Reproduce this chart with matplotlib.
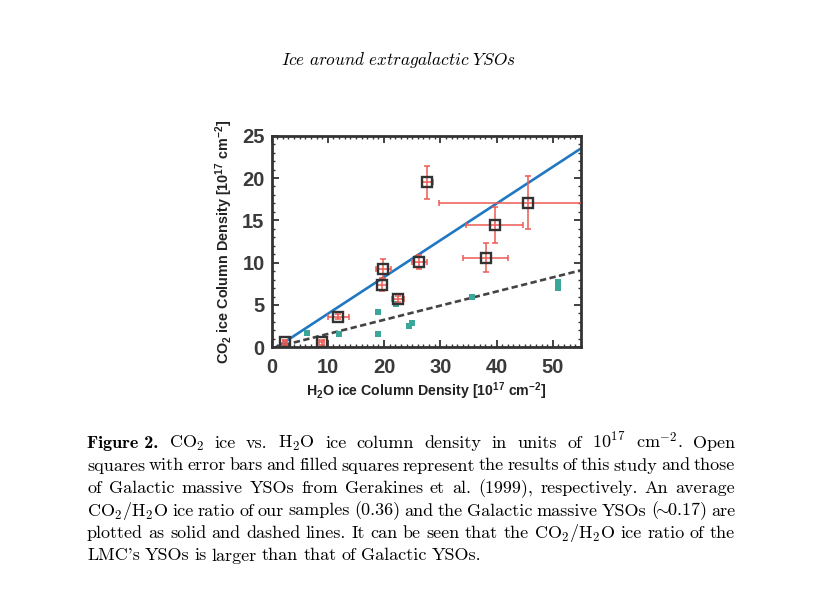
import matplotlib
matplotlib.use('Agg')
from matplotlib import pyplot as plt

# this study (open squares with error bars)
h2o = [2.4, 8.9, 11.9, 19.6, 19.9, 22.5, 26.3, 27.7, 38.1, 39.7, 45.6]
co2 = [0.6, 0.6, 3.6, 7.4, 9.25, 5.7, 10.1, 19.5, 10.6, 14.45, 17.1]
h2o_err_lo = [0.4, 0.4, 1.8, 0.9, 1.4, 1.0, 1.4, 1.0, 4.0, 5.05, 15.85]
h2o_err_hi = [0.4, 0.4, 1.8, 0.9, 1.4, 1.0, 1.4, 1.0, 4.0, 5.05, 16.0]
co2_err = [0.3, 0.3, 0.3, 0.8, 1.2, 0.4, 0.8, 1.95, 1.7, 2.1, 3.1]

# Galactic massive YSOs, Gerakines et al. (1999) (filled squares)
gal_h2o = [6.25, 12.0, 19.0, 19.0, 22.05, 24.4, 25.0, 35.6, 50.95, 50.95]
gal_co2 = [1.65, 1.53, 4.13, 1.53, 5.1, 2.55, 2.9, 6.0, 7.75, 7.05]

# average ratio lines (end points)
lmc_line_x = [0.9, 55]
lmc_line_y = [0, 23.5]
gal_line_x = [0.6, 55]
gal_line_y = [0, 9.1]

header = r'$\mathit{Ice\ around\ extragalactic\ YSOs}$'
caption = [
    r'Figure 2. CO$_2$ ice vs. H$_2$O ice column density in units of 10$^{17}$ cm$^{-2}$. Open',
    r'squares with error bars and filled squares represent the results of this study and those',
    r'of Galactic massive YSOs from Gerakines et al. (1999), respectively. An average',
    r'CO$_2$/H$_2$O ice ratio of our samples (0.36) and the Galactic massive YSOs ($\!\!\sim\!\!$0.17) are',
    r'plotted as solid and dashed lines. It can be seen that the CO$_2$/H$_2$O ice ratio of the',
    r"LMC's YSOs is larger than that of Galactic YSOs.",
]

plt.rcParams['font.family'] = ['Liberation Sans', 'DejaVu Sans']
plt.rcParams['mathtext.fontset'] = 'custom'
plt.rcParams['mathtext.rm'] = 'Liberation Sans:bold'
plt.rcParams['mathtext.it'] = 'Liberation Sans:bold:italic'
plt.rcParams['mathtext.bf'] = 'Liberation Sans:bold'

W, H = 813, 592
fig = plt.figure(figsize=(W / 100, H / 100), dpi=100)
ax = fig.add_axes([271.5 / W, 1 - 347.3 / H, 309.5 / W, 211.6 / H])

ax.plot(lmc_line_x, lmc_line_y, color='#1f78c1', lw=1.9, zorder=2)
ax.plot(gal_line_x, gal_line_y, color='#444444', lw=1.9, dashes=(2.4, 1.3), zorder=2)
ax.plot(gal_h2o, gal_co2, 's', color='#3aa79a', ms=3.8, mew=0, zorder=3)
ax.errorbar(h2o, co2, xerr=[h2o_err_lo, h2o_err_hi], yerr=co2_err, fmt='none',
            ecolor='#ee5a52', elinewidth=1.1, capsize=2.2, capthick=1.1, zorder=4)
ax.plot(h2o, co2, 's', ms=7.8, mfc='none', mec='#333333', mew=1.7, zorder=5)

ax.set_xlim(0, 55)
ax.set_ylim(0, 25)
ax.set_xticks(range(0, 51, 10))
ax.set_yticks(range(0, 26, 5))
ax.set_xticks(range(0, 56), minor=True)
ax.set_yticks(range(0, 26), minor=True)
ax.tick_params(which='both', direction='in', top=True, right=True, color='#333333')
ax.tick_params(which='major', length=5, width=1.3, labelsize=14.5, labelcolor='#3a3a3a')
ax.tick_params(which='minor', length=2.5, width=1.0)
ax.tick_params(axis='x', pad=8)
ax.tick_params(axis='y', pad=5)
for lab in ax.get_xticklabels() + ax.get_yticklabels():
    lab.set_fontweight('bold')
for sp in ax.spines.values():
    sp.set_linewidth(2)
    sp.set_color('#333333')

ax.set_xlabel(r'H$_2$O ice Column Density [10$^{17}$ cm$^{-2}$]', fontsize=10.2,
              fontweight='bold', color='#222222', labelpad=2)
ax.set_ylabel(r'CO$_2$ ice Column Density [10$^{17}$ cm$^{-2}$]', fontsize=10.4,
              fontweight='bold', color='#222222', labelpad=5)

fig.text(398 / W, 1 - 65 / H, header, math_fontfamily='cm', fontsize=12.4,
         ha='center', va='baseline')

# caption, justified line by line like the LaTeX original
renderer = fig.canvas.get_renderer()
left, right = 87, 735
baselines = [448, 470.5, 493, 515.5, 538, 560.5]
for i, line in enumerate(caption):
    if line.startswith('Figure 2.'):
        words = [('Figure 2.', 'cmb10')] + [(w, 'cmr10') for w in line[10:].split(' ')]
    else:
        words = [(w, 'cmr10') for w in line.split(' ')]
    texts = []
    for w, fam in words:
        t = fig.text(0, 1 - baselines[i] / H, w, family=fam, math_fontfamily='cm',
                     fontsize=13, va='baseline', ha='left')
        texts.append(t)
    widths = [t.get_window_extent(renderer).width for t in texts]
    if i < len(caption) - 1:
        gap = (right - left - sum(widths)) / (len(texts) - 1)
    else:
        gap = 5
    x = left
    for t, wd in zip(texts, widths):
        t.set_x(x / W)
        x += wd + gap

fig.savefig('out.png', dpi=100)
